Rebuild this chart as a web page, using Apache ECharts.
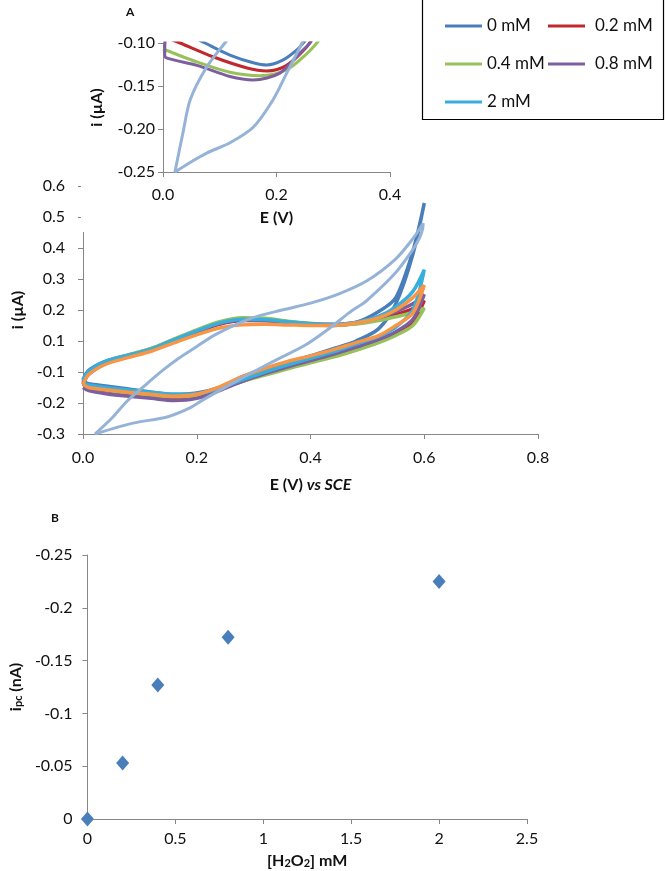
<!DOCTYPE html>
<html>
<head>
<meta charset="utf-8">
<script src="https://cdn.jsdelivr.net/npm/echarts@6/dist/echarts.min.js"></script>
<style>html,body{margin:0;padding:0;background:#fff}#c{width:666px;height:871px}</style>
</head>
<body>
<div id="c"></div>
<script>
// ---------- Panel A, main CV plot (E in V, i on the plotted scale) ----------
const E_fwd = [0, 0.01, 0.04, 0.08, 0.12, 0.16, 0.2, 0.24, 0.28, 0.32, 0.36, 0.4, 0.44, 0.48, 0.52, 0.55, 0.58, 0.6];
const E_rev = [0.6, 0.58, 0.55, 0.52, 0.48, 0.44, 0.4, 0.36, 0.32, 0.28, 0.24, 0.2, 0.16, 0.12, 0.08, 0.04, 0.01, 0];

const i0_fwd   = [-0.125, -0.095, -0.065, -0.045, -0.025, 0.005, 0.032, 0.058, 0.07, 0.07, 0.062, 0.055, 0.052, 0.06, 0.095, 0.14, 0.29, 0.445];
const i0_rev   = [0.445, 0.28, 0.12, 0.04, 0.0, -0.025, -0.048, -0.068, -0.09, -0.115, -0.15, -0.168, -0.172, -0.165, -0.155, -0.145, -0.138, -0.13];
const i02_fwd  = [-0.135, -0.102, -0.07, -0.048, -0.028, 0.0, 0.028, 0.054, 0.066, 0.066, 0.06, 0.053, 0.05, 0.056, 0.07, 0.085, 0.105, 0.13];
const i02_rev  = [0.13, 0.06, 0.025, 0.0, -0.025, -0.047, -0.067, -0.087, -0.107, -0.13, -0.155, -0.178, -0.185, -0.178, -0.17, -0.16, -0.15, -0.14];
const i04_fwd  = [-0.13, -0.1, -0.068, -0.045, -0.024, 0.006, 0.036, 0.062, 0.075, 0.073, 0.064, 0.057, 0.052, 0.055, 0.066, 0.078, 0.092, 0.106];
const i04_rev  = [0.106, 0.05, 0.018, -0.005, -0.03, -0.052, -0.07, -0.09, -0.11, -0.13, -0.155, -0.175, -0.18, -0.175, -0.168, -0.158, -0.148, -0.135];
const i08_fwd  = [-0.14, -0.108, -0.072, -0.048, -0.027, 0.002, 0.03, 0.056, 0.068, 0.066, 0.06, 0.055, 0.054, 0.06, 0.075, 0.095, 0.12, 0.15];
const i08_rev  = [0.15, 0.07, 0.03, 0.005, -0.02, -0.043, -0.063, -0.083, -0.105, -0.13, -0.16, -0.185, -0.192, -0.185, -0.178, -0.17, -0.16, -0.15];
const i2_fwd   = [-0.128, -0.098, -0.066, -0.046, -0.026, 0.004, 0.033, 0.058, 0.07, 0.069, 0.062, 0.056, 0.053, 0.06, 0.08, 0.11, 0.16, 0.23];
const i2_rev   = [0.23, 0.1, 0.045, 0.015, -0.01, -0.035, -0.056, -0.077, -0.1, -0.125, -0.152, -0.17, -0.172, -0.165, -0.158, -0.15, -0.142, -0.135];
const iOr_fwd  = [-0.14, -0.108, -0.075, -0.053, -0.033, -0.006, 0.02, 0.042, 0.052, 0.054, 0.052, 0.05, 0.05, 0.058, 0.075, 0.1, 0.14, 0.18];
const iOr_rev  = [0.18, 0.09, 0.05, 0.017, -0.005, -0.028, -0.048, -0.066, -0.088, -0.115, -0.148, -0.172, -0.178, -0.172, -0.165, -0.157, -0.15, -0.14];

// light-blue trace (own E grid)
const lbA_E = [0.021, 0.05, 0.077, 0.106, 0.14, 0.169, 0.2, 0.232, 0.294, 0.35, 0.4, 0.45, 0.5, 0.55, 0.58, 0.598];
const lbA_i = [-0.3, -0.25, -0.195, -0.148, -0.095, -0.055, -0.018, 0.02, 0.072, 0.1, 0.122, 0.152, 0.195, 0.265, 0.33, 0.38];
const lbB_E = [0.598, 0.558, 0.5, 0.47, 0.434, 0.391, 0.329, 0.264, 0.211, 0.188, 0.148, 0.088, 0.021];
const lbB_i = [0.375, 0.239, 0.132, 0.094, 0.042, -0.013, -0.071, -0.135, -0.19, -0.216, -0.245, -0.265, -0.3];

// tick labels of the main y axis as printed in the figure
const mainYLabels = ['-0.3', '-0.2', '-0.1', '0.1', '0.2', '0.3', '0.4', '0.5', '0.6'];

// ---------- Panel A inset ----------
const ins0_E  = [0.05, 0.074, 0.118, 0.159, 0.183, 0.211, 0.236, 0.247, 0.26];
const ins0_i  = [-0.092, -0.1, -0.114, -0.123, -0.1256, -0.12, -0.108, -0.1, -0.09];
const ins02_E = [0.0, 0.03, 0.088, 0.148, 0.183, 0.218, 0.254, 0.262];
const ins02_i = [-0.092, -0.1, -0.116, -0.129, -0.1325, -0.126, -0.104, -0.095];
const ins04_E = [0.0, 0.06, 0.118, 0.171, 0.218, 0.254, 0.271, 0.28];
const ins04_i = [-0.107, -0.122, -0.134, -0.138, -0.131, -0.112, -0.1, -0.092];
const ins08_E = [0.004, 0.003, 0.005, 0.06, 0.118, 0.159, 0.206, 0.241, 0.259, 0.265];
const ins08_i = [-0.09, -0.112, -0.117, -0.126, -0.139, -0.143, -0.135, -0.112, -0.1, -0.093];
const insLb_E = [0.118, 0.109, 0.077, 0.048, 0.035, 0.021, 0.05, 0.077, 0.118, 0.159, 0.194, 0.218, 0.245, 0.25];
const insLb_i = [-0.093, -0.1, -0.128, -0.166, -0.205, -0.25, -0.238, -0.228, -0.216, -0.198, -0.166, -0.135, -0.1, -0.093];

// ---------- Panel B ----------
const conc = [0, 0.2, 0.4, 0.8, 2];
const ipc  = [0, -0.053, -0.127, -0.172, -0.225];

const FONT = 'Lato, "Liberation Sans", sans-serif';
const AXC = '#878787';
const TXT = '#111';

const col = { c0: '#4A7EBB', c02: '#C0282D', c04: '#98C15A', c08: '#7D5FA0', c2: '#38AEDD', cOr: '#F79646', cLb: '#95B3D7' };

function loop(ef, f, er, r) {
  return ef.map((e, k) => [e, f[k]]).concat(er.map((e, k) => [e, r[k]]));
}
function pairs(E, I) { return E.map((e, k) => [e, I[k]]); }

function mainLine(name, color, data, w) {
  return { name, type: 'line', xAxisIndex: 0, yAxisIndex: 0, data, showSymbol: false, smooth: 0.3,
    lineStyle: { color, width: w || 3.5 }, itemStyle: { color }, z: 2 };
}
function insetLine(name, color, data) {
  return { name, type: 'line', xAxisIndex: 1, yAxisIndex: 1, data, showSymbol: false, smooth: 0.3,
    lineStyle: { color, width: 3 }, itemStyle: { color }, zlevel: 1, z: 6 };
}

const labelStyle = { color: TXT, fontSize: 16, fontFamily: FONT };
const axisLine = { show: true, onZero: false, lineStyle: { color: AXC, width: 1 } };
const axisTick = { show: true, inside: false, length: 5, lineStyle: { color: AXC } };
const boldName = { color: TXT, fontSize: 16, fontWeight: 'bold', fontFamily: FONT };

const chart = echarts.init(document.getElementById('c'), null, { renderer: 'canvas' });
chart.setOption({
  animation: false,
  backgroundColor: '#fff',
  grid: [
    { left: 83, top: 186, width: 455, height: 248, containLabel: false },
    { left: 163, top: 43, width: 227, height: 129, containLabel: false, zlevel: 1 },
    { left: 72, top: 555, width: 455, height: 264, containLabel: false }
  ],
  xAxis: [
    { gridIndex: 0, type: 'value', min: 0, max: 0.8, interval: 0.2, splitLine: { show: false },
      axisLine, axisTick, axisLabel: { ...labelStyle, margin: 16, formatter: v => v.toFixed(1) },
      name: '{b|E (V) }{i|vs SCE}', nameLocation: 'middle', nameGap: 43,
      nameTextStyle: { rich: { b: { ...boldName }, i: { ...boldName, fontStyle: 'italic' } } } },
    { gridIndex: 1, type: 'value', min: 0, max: 0.4, interval: 0.2, splitLine: { show: false },
      axisLine, axisTick, axisLabel: { ...labelStyle, margin: 15, formatter: v => v.toFixed(1) },
      name: 'E (V)', nameLocation: 'middle', nameGap: 38, nameTextStyle: boldName, zlevel: 1, z: 5 },
    { gridIndex: 2, type: 'value', min: 0, max: 2.5, interval: 0.5, splitLine: { show: false },
      axisLine, axisTick, axisLabel: { ...labelStyle, margin: 12 },
      name: '{b|[H}{s|2}{b|O}{s|2}{b|] mM}', nameLocation: 'middle', nameGap: 30,
      nameTextStyle: { rich: { b: { ...boldName, lineHeight: 20, verticalAlign: 'bottom' },
        s: { ...boldName, fontSize: 11, lineHeight: 14, verticalAlign: 'bottom' } } } }
  ],
  yAxis: [
    { gridIndex: 0, type: 'value', min: -0.3, max: 0.5, interval: 0.1, splitLine: { show: false },
      axisLine, axisTick,
      axisLabel: { ...labelStyle, margin: 18, formatter: v => mainYLabels[Math.round((v + 0.3) * 10)] },
      name: 'i (µA)', nameLocation: 'middle', nameGap: 52, nameTextStyle: boldName },
    { gridIndex: 1, type: 'value', min: -0.25, max: -0.10, interval: 0.05, splitLine: { show: false },
      axisLine, axisTick, axisLabel: { ...labelStyle, margin: 8, formatter: v => v.toFixed(2) },
      name: 'i (µA)', nameLocation: 'middle', nameGap: 58, nameTextStyle: boldName, zlevel: 1, z: 5 },
    { gridIndex: 2, type: 'value', min: -0.25, max: 0, interval: 0.05, inverse: true, splitLine: { show: false },
      axisLine, axisTick, axisLabel: { ...labelStyle, margin: 15 },
      name: '{b|i}{s|pc}{b| (nA)}', nameLocation: 'middle', nameGap: 50,
      nameTextStyle: { rich: { b: { ...boldName, lineHeight: 20, verticalAlign: 'bottom' },
        s: { ...boldName, fontSize: 11, lineHeight: 14, verticalAlign: 'bottom' } } } }
  ],
  legend: [
    { data: ['0 mM', '0.4 mM', '2 mM'], orient: 'vertical', left: 440, top: 12, itemGap: 20,
      itemWidth: 37, itemHeight: 3, icon: 'rect', selectedMode: false, zlevel: 1, z: 8,
      textStyle: { color: TXT, fontSize: 17, fontFamily: FONT, lineHeight: 18 } },
    { data: ['0.2 mM', '0.8 mM'], orient: 'vertical', left: 543, top: 12, itemGap: 20,
      itemWidth: 37, itemHeight: 3, icon: 'rect', selectedMode: false, zlevel: 1, z: 8,
      textStyle: { color: TXT, fontSize: 17, fontFamily: FONT, lineHeight: 18, padding: [0, 0, 0, 5] } }
  ],
  graphic: [
    { type: 'rect', zlevel: 1, z: 0, shape: { x: 81, y: 0, width: 330, height: 232 }, style: { fill: '#fff' }, silent: true },
    { type: 'rect', zlevel: 1, z: 1, shape: { x: 422.5, y: -2, width: 241, height: 121.5 },
      style: { fill: 'none', stroke: '#000', lineWidth: 1.2 }, silent: true },
    { type: 'text', zlevel: 1, z: 9, left: 126, top: 6, style: { text: 'A', font: 'bold 12px ' + FONT, fill: TXT } },
    { type: 'text', z: 9, left: 51, top: 512, style: { text: 'B', font: 'bold 12px ' + FONT, fill: TXT } }
  ],
  series: [
    mainLine('0 mM', col.c0, loop(E_fwd, i0_fwd, E_rev, i0_rev)),
    mainLine('0.2 mM', col.c02, loop(E_fwd, i02_fwd, E_rev, i02_rev)),
    mainLine('0.4 mM', col.c04, loop(E_fwd, i04_fwd, E_rev, i04_rev)),
    mainLine('0.8 mM', col.c08, loop(E_fwd, i08_fwd, E_rev, i08_rev)),
    mainLine('2 mM', col.c2, loop(E_fwd, i2_fwd, E_rev, i2_rev)),
    mainLine('series6', col.cOr, loop(E_fwd, iOr_fwd, E_rev, iOr_rev)),
    mainLine('series7', col.cLb, pairs(lbA_E, lbA_i).concat(pairs(lbB_E, lbB_i)), 3),
    insetLine('0 mM', col.c0, pairs(ins0_E, ins0_i)),
    insetLine('0.2 mM', col.c02, pairs(ins02_E, ins02_i)),
    insetLine('0.4 mM', col.c04, pairs(ins04_E, ins04_i)),
    insetLine('0.8 mM', col.c08, pairs(ins08_E, ins08_i)),
    insetLine('series7', col.cLb, pairs(insLb_E, insLb_i)),
    { name: 'ipc', type: 'scatter', xAxisIndex: 2, yAxisIndex: 2, data: pairs(conc, ipc),
      symbol: 'diamond', symbolSize: [13, 15], itemStyle: { color: '#4A7EBB', opacity: 1 }, clip: false }
  ]
});
</script>
</body>
</html>
